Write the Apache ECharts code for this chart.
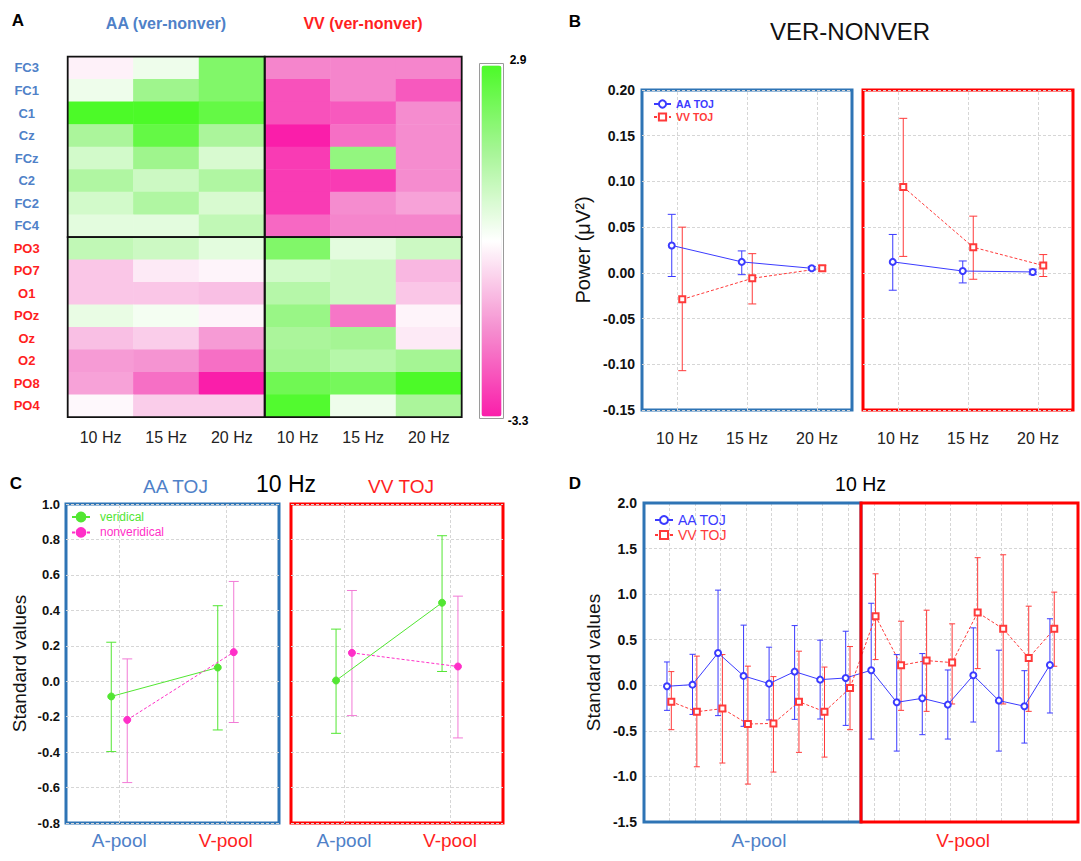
<!DOCTYPE html>
<html><head><meta charset="utf-8">
<script src="https://cdn.jsdelivr.net/npm/echarts@6/dist/echarts.min.js"></script>
<style>html,body{margin:0;padding:0;background:#fff}#c{width:1081px;height:861px}</style>
</head><body><div id="c"></div>
<script>
// ---------------- DATA ----------------
// Panel A (heatmap, ver - nonver)
const freqLabels = ['10 Hz', '15 Hz', '20 Hz'];
const frontRows = ['FC3', 'FC1', 'C1', 'Cz', 'FCz', 'C2', 'FC2', 'FC4'];
const postRows = ['PO3', 'PO7', 'O1', 'POz', 'Oz', 'O2', 'PO8', 'PO4'];
const aaFront = [[-0.4, 0.1, 2.0], [0.1, 1.5, 2.0], [2.9, 2.9, 2.5], [1.3, 2.5, 1.3], [0.6, 1.5, 0.5], [1.2, 0.7, 1.2], [0.6, 1.2, 0.5], [0.3, 0.3, 0.9]];
const aaPost = [[0.9, 0.7, 0.3], [-1.0, -0.5, -0.35], [-1.0, -1.0, -1.1], [0.2, 0.0, -0.35], [-1.1, -0.9, -1.6], [-1.6, -1.7, -2.2], [-1.5, -2.2, -3.3], [-0.3, -0.9, -0.9]];
const vvFront = [[-1.9, -1.9, -1.9], [-2.6, -1.9, -2.5], [-2.6, -2.5, -1.8], [-3.3, -2.2, -1.8], [-2.9, 1.7, -1.8], [-2.9, -2.9, -1.8], [-2.9, -1.8, -1.5], [-2.3, -1.9, -1.9]];
const vvPost = [[2.0, 0.3, 0.7], [0.6, 0.7, -1.2], [1.1, 0.7, -1.0], [1.6, -2.1, -0.35], [1.3, 1.4, -0.5], [1.4, 1.1, 1.4], [2.3, 2.2, 2.9], [2.8, 0.1, 1.3]];
const colorMin = -3.3, colorMax = 2.9;

// Panel B (power, ver - nonver)
const bApoolAAMean = [0.030, 0.012, 0.005];
const bApoolAALow = [-0.004, -0.002, 0.003];
const bApoolAAHigh = [0.064, 0.024, 0.007];
const bApoolVVMean = [-0.029, -0.006, 0.005];
const bApoolVVLow = [-0.107, -0.034, 0.002];
const bApoolVVHigh = [0.050, 0.021, 0.008];
const bVpoolAAMean = [0.012, 0.002, 0.001];
const bVpoolAALow = [-0.019, -0.011, -0.002];
const bVpoolAAHigh = [0.042, 0.013, 0.004];
const bVpoolVVMean = [0.094, 0.028, 0.008];
const bVpoolVVLow = [0.018, -0.007, -0.004];
const bVpoolVVHigh = [0.169, 0.062, 0.020];

// Panel C (10 Hz, standard values)
const poolLabels = ['A-pool', 'V-pool'];
const cAAVerMean = [-0.086, 0.077], cAAVerLow = [-0.397, -0.275], cAAVerHigh = [0.220, 0.426];
const cAANonMean = [-0.218, 0.164], cAANonLow = [-0.572, -0.233], cAANonHigh = [0.126, 0.563];
const cVVVerMean = [0.004, 0.443], cVVVerLow = [-0.294, 0.055], cVVVerHigh = [0.294, 0.821];
const cVVNonMean = [0.160, 0.083], cVVNonLow = [-0.194, -0.320], cVVNonHigh = [0.512, 0.480];

// Panel D (10 Hz, per electrode, A-pool then V-pool)
const dPoolSizes = [8, 8];
const dAAMean = [-0.011, 0.007, 0.355, 0.103, 0.018, 0.150, 0.062, 0.080, 0.165, -0.187, -0.143, -0.212, 0.110, -0.168, -0.230, 0.223];
const dAALow = [-0.275, -0.320, -0.333, -0.450, -0.380, -0.374, -0.370, -0.440, -0.590, -0.722, -0.542, -0.590, -0.403, -0.722, -0.634, -0.304];
const dAAHigh = [0.256, 0.340, 1.044, 0.660, 0.418, 0.655, 0.495, 0.593, 0.900, 0.337, 0.348, 0.168, 0.630, 0.385, 0.160, 0.730];
const dVVMean = [-0.180, -0.290, -0.256, -0.425, -0.418, -0.180, -0.290, -0.030, 0.758, 0.220, 0.271, 0.249, 0.799, 0.619, 0.300, 0.619];
const dVVLow = [-0.487, -0.894, -0.853, -1.084, -0.952, -0.736, -0.788, -0.487, 0.282, -0.275, -0.286, -0.205, 0.183, -0.205, -0.286, 0.209];
const dVVHigh = [0.150, 0.320, 0.337, 0.210, 0.095, 0.374, 0.200, 0.425, 1.223, 0.703, 0.824, 0.674, 1.400, 1.432, 0.868, 1.022];

// ---------------- STYLE ----------------
const FONT = '"Liberation Sans", Arial, Helvetica, sans-serif';
const BLUE_BOX = '#2e74b5', RED_BOX = '#ff0000';
const LBL_BLUE = '#4f81c8', LBL_RED = '#ff1f1f';
const AA_COL = '#3b3bff', VV_COL = '#ff3a3a';
const VER_COL = '#52e632', NON_COL = '#ff2fc8', NON_ERR = '#f27ad6';
const GRID_LINE = { color: '#d6d6d6', width: 1, type: [3, 2] };

// ---------------- HELPERS ----------------
function heatData(m) { const out = []; m.forEach((row, r) => row.forEach((v, c) => out.push([c, r, v]))); return out; }
function positions(n, off, start) { return Array.from({ length: n }, (_, i) => i + (start || 0) + off); }

function errSeries(name, xi, yi, xs, lows, highs, color, cap) {
  return {
    type: 'custom', name, xAxisIndex: xi, yAxisIndex: yi, silent: true, z: 3,
    data: xs.map((x, i) => [x, lows[i], highs[i]]),
    encode: { x: 0, y: [1, 2] },
    renderItem: (params, api) => {
      const x = api.value(0);
      const t = api.coord([x, api.value(2)]);
      const b = api.coord([x, api.value(1)]);
      const st = { stroke: color, lineWidth: 1, fill: 'none' };
      return { type: 'group', children: [
        { type: 'line', shape: { x1: t[0], y1: t[1], x2: b[0], y2: b[1] }, style: st },
        { type: 'line', shape: { x1: t[0] - cap, y1: t[1], x2: t[0] + cap, y2: t[1] }, style: st },
        { type: 'line', shape: { x1: b[0] - cap, y1: b[1], x2: b[0] + cap, y2: b[1] }, style: st }
      ] };
    }
  };
}
// frame drawn on top of a heatmap's coordinate system
function frameSeries(k) {
  return {
    type: 'custom', xAxisIndex: k, yAxisIndex: k, silent: true, z: 10, data: [[0, 0]],
    renderItem: (params) => {
      const cs = params.coordSys;
      return { type: 'rect', shape: { x: cs.x, y: cs.y, width: cs.width, height: cs.height },
        style: { fill: 'none', stroke: '#111', lineWidth: 1.8 } };
    }
  };
}
function meanSeries(name, xi, yi, xs, means, color, symbol, size, dashed, extra) {
  return Object.assign({
    type: 'line', name, xAxisIndex: xi, yAxisIndex: yi, silent: true, z: 4,
    data: xs.map((x, i) => [x, means[i]]),
    symbol, symbolSize: size, showSymbol: true,
    lineStyle: { color, width: 1, type: dashed ? [3, 2] : 'solid' },
    itemStyle: { color, borderColor: color, borderWidth: 1 },
    emphasis: { disabled: true }
  }, extra || {});
}
function vGridLines(n) {
  return { silent: true, symbol: ['none', 'none'], label: { show: false }, lineStyle: GRID_LINE, z: 1,
    data: Array.from({ length: n }, (_, i) => ({ xAxis: i })) };
}
function catLabelAxis(gi, data, label) {
  return { type: 'category', gridIndex: gi, data, boundaryGap: true, position: 'bottom',
    axisLine: { show: false }, axisTick: { show: false }, splitLine: { show: false },
    axisLabel: Object.assign({ interval: 0, fontFamily: FONT }, label) };
}
function hiddenX(gi, n) { return { type: 'value', gridIndex: gi, min: -0.5, max: n - 0.5, show: false }; }
function valY(gi, min, max, interval, digits, showLabels, fontSize, margin, name, nameGap, nameSize) {
  return { type: 'value', gridIndex: gi, min, max, interval,
    axisLine: { show: false }, axisTick: { show: false },
    splitLine: { show: true, lineStyle: GRID_LINE },
    axisLabel: { show: showLabels, fontSize, fontWeight: 'bold', color: '#111', margin, fontFamily: FONT,
      formatter: v => v.toFixed(digits) },
    name: name || '', nameLocation: 'middle', nameGap: nameGap || 0,
    nameTextStyle: { fontSize: nameSize || 12, color: '#111', fontFamily: FONT } };
}
const poolRichStyles = (size) => ({ p0: { color: LBL_BLUE, fontSize: size, fontFamily: FONT }, p1: { color: LBL_RED, fontSize: size, fontFamily: FONT } });
function poolRich(size) {
  return { fontSize: size, formatter: (v, i) => '{p' + i + '|' + v + '}', rich: poolRichStyles(size) };
}

// ---------------- LAYOUT ----------------
const hmBorder = { show: false, outerBoundsMode: 'none' };
const grids = [
  Object.assign({ left: 67.7, top: 56.7, width: 197, height: 180.5 }, hmBorder),
  Object.assign({ left: 264.7, top: 56.7, width: 197, height: 180.5 }, hmBorder),
  Object.assign({ left: 67.7, top: 237.2, width: 197, height: 180 }, hmBorder),
  Object.assign({ left: 264.7, top: 237.2, width: 197, height: 180 }, hmBorder),
  { left: 642, top: 90, width: 210, height: 320, show: true, borderColor: BLUE_BOX, borderWidth: 3, backgroundColor: 'rgba(0,0,0,0)', outerBoundsMode: 'none' },
  { left: 863, top: 90, width: 210, height: 320, show: true, borderColor: RED_BOX, borderWidth: 3, backgroundColor: 'rgba(0,0,0,0)', outerBoundsMode: 'none' },
  { left: 66, top: 504, width: 213, height: 319, show: true, borderColor: BLUE_BOX, borderWidth: 3, backgroundColor: 'rgba(0,0,0,0)', outerBoundsMode: 'none' },
  { left: 291, top: 504, width: 212, height: 319, show: true, borderColor: RED_BOX, borderWidth: 3, backgroundColor: 'rgba(0,0,0,0)', outerBoundsMode: 'none' },
  { left: 644, top: 503, width: 434, height: 319, show: false, outerBoundsMode: 'none' }
];

function hmX(gi, showLabels) {
  return { type: 'category', gridIndex: gi, data: freqLabels, position: 'bottom',
    axisLine: { show: false }, axisTick: { show: false }, splitLine: { show: false },
    axisLabel: { show: showLabels, interval: 0, fontSize: 16, color: '#222', margin: 12, fontFamily: FONT } };
}
function hmY(gi, rows, color, showLabels) {
  return { type: 'category', gridIndex: gi, data: rows, inverse: true,
    axisLine: { show: false }, axisTick: { show: false }, splitLine: { show: false },
    axisLabel: { show: showLabels, interval: 0, fontSize: 13, fontWeight: 'bold', color, align: 'center', margin: 41, fontFamily: FONT } };
}

const dTotal = dPoolSizes[0] + dPoolSizes[1];
const split = dPoolSizes[0] + 0.5;
const dPoolCenters = [(1 + dPoolSizes[0]) / 2, dPoolSizes[0] + (1 + dPoolSizes[1]) / 2];
const xAxes = [
  hmX(0, false), hmX(1, false), hmX(2, true), hmX(3, true),
  catLabelAxis(4, freqLabels, { fontSize: 16, color: '#222', margin: 20 }), hiddenX(4, freqLabels.length),
  catLabelAxis(5, freqLabels, { fontSize: 16, color: '#222', margin: 20 }), hiddenX(5, freqLabels.length),
  catLabelAxis(6, poolLabels, Object.assign({ margin: 8 }, poolRich(19))), hiddenX(6, poolLabels.length),
  catLabelAxis(7, poolLabels, Object.assign({ margin: 8 }, poolRich(19))), hiddenX(7, poolLabels.length),
  { type: 'value', gridIndex: 8, min: 0, max: dTotal + 1, interval: 1, position: 'bottom',
    axisLine: { show: false }, axisTick: { show: false }, axisLabel: { show: false },
    splitLine: { show: true, lineStyle: GRID_LINE } },
  { type: 'value', gridIndex: 8, min: 0, max: dTotal + 1, position: 'bottom',
    axisLine: { show: false }, axisTick: { show: false }, splitLine: { show: false },
    axisLabel: { show: true, customValues: dPoolCenters, margin: 9, fontSize: 19, fontFamily: FONT,
      showMinLabel: true, showMaxLabel: true, hideOverlap: false,
      formatter: v => v < split ? '{p0|' + poolLabels[0] + '}' : '{p1|' + poolLabels[1] + '}',
      rich: poolRichStyles(19) } }
];
const yAxes = [
  hmY(0, frontRows, LBL_BLUE, true), hmY(1, frontRows, LBL_BLUE, false),
  hmY(2, postRows, LBL_RED, true), hmY(3, postRows, LBL_RED, false),
  valY(4, -0.15, 0.2, 0.05, 2, true, 14, 7, 'Power (μV²)', 49, 20),
  valY(5, -0.15, 0.2, 0.05, 2, false, 14, 7),
  valY(6, -0.8, 1.0, 0.2, 1, true, 13, 6, 'Standard values', 37, 19),
  valY(7, -0.8, 1.0, 0.2, 1, false, 13, 6),
  valY(8, -1.5, 2.0, 0.5, 1, true, 14, 7, 'Standard values', 41, 19)
];

// ---------------- SERIES ----------------
const series = [];
[aaFront, vvFront, aaPost, vvPost].forEach((m, k) => {
  series.push({ type: 'heatmap', xAxisIndex: k, yAxisIndex: k, data: heatData(m), silent: true,
    itemStyle: { borderWidth: 0 }, emphasis: { disabled: true } });
});
[0, 1, 2, 3].forEach(k => series.push(frameSeries(k)));

// B
const bOff = 0.075, nF = freqLabels.length;
[[5, 4, bApoolAAMean, bApoolAALow, bApoolAAHigh, bApoolVVMean, bApoolVVLow, bApoolVVHigh],
 [7, 5, bVpoolAAMean, bVpoolAALow, bVpoolAAHigh, bVpoolVVMean, bVpoolVVLow, bVpoolVVHigh]].forEach(p => {
  const [xi, yi, am, al, ah, vm, vl, vh] = p;
  const xa = positions(nF, -bOff), xv = positions(nF, bOff);
  series.push(errSeries('AA err', xi, yi, xa, al, ah, AA_COL, 4));
  series.push(errSeries('VV err', xi, yi, xv, vl, vh, VV_COL, 4));
  series.push(meanSeries('AA TOJ', xi, yi, xa, am, AA_COL, 'emptyCircle', 6, false, { markLine: vGridLines(nF) }));
  series.push(meanSeries('VV TOJ', xi, yi, xv, vm, VV_COL, 'emptyRect', 6, true));
});

// C
const cOff = 0.075, nP = poolLabels.length;
[[9, 6, cAAVerMean, cAAVerLow, cAAVerHigh, cAANonMean, cAANonLow, cAANonHigh],
 [11, 7, cVVVerMean, cVVVerLow, cVVVerHigh, cVVNonMean, cVVNonLow, cVVNonHigh]].forEach(p => {
  const [xi, yi, gm, gl, gh, mm, ml, mh] = p;
  const xg = positions(nP, -cOff), xm = positions(nP, cOff);
  series.push(errSeries('ver err', xi, yi, xg, gl, gh, VER_COL, 5));
  series.push(errSeries('non err', xi, yi, xm, ml, mh, NON_ERR, 5));
  series.push(meanSeries('veridical', xi, yi, xg, gm, VER_COL, 'circle', 7, false, { markLine: vGridLines(nP) }));
  series.push(meanSeries('nonveridical', xi, yi, xm, mm, NON_COL, 'circle', 7, true));
});

// D
const xdA = positions(dTotal, -0.1, 1), xdV = positions(dTotal, 0.07, 1);
series.push(errSeries('AA err', 12, 8, xdA, dAALow, dAAHigh, AA_COL, 3));
series.push(errSeries('VV err', 12, 8, xdV, dVVLow, dVVHigh, VV_COL, 3));
series.push(meanSeries('AA TOJ', 12, 8, xdA, dAAMean, AA_COL, 'emptyCircle', 6, false, {
  markArea: { silent: true, z: 5, data: [
    [{ xAxis: 0, itemStyle: { color: 'rgba(0,0,0,0)', borderColor: BLUE_BOX, borderWidth: 3 } }, { xAxis: split }],
    [{ xAxis: split, itemStyle: { color: 'rgba(0,0,0,0)', borderColor: RED_BOX, borderWidth: 3 } }, { xAxis: dTotal + 1 }]
  ] }
}));
series.push(meanSeries('VV TOJ', 12, 8, xdV, dVVMean, VV_COL, 'emptyRect', 6, true));

// ---------------- TEXT ----------------
function txt(text, x, y, size, weight, color) {
  return { type: 'text', x, y, silent: true, z: 100,
    style: { text, fill: color, fontSize: size, fontWeight: weight, fontFamily: FONT, textAlign: 'center', textVerticalAlign: 'middle' } };
}
const graphic = [
  txt('A', 18, 20, 17, 'bold', '#000'),
  txt('AA (ver-nonver)', 166, 23, 16, 'bold', LBL_BLUE),
  txt('VV (ver-nonver)', 363, 23, 16, 'bold', LBL_RED),
  txt('2.9', 518, 60, 12, 'bold', '#000'),
  txt('-3.3', 518, 421, 12, 'bold', '#000'),
  txt('B', 575, 21, 17, 'bold', '#000'),
  txt('VER-NONVER', 850, 31, 24, 'normal', '#111'),
  txt('C', 16, 483, 17, 'bold', '#000'),
  txt('AA TOJ', 175.5, 486, 19, 'normal', LBL_BLUE),
  txt('10 Hz', 286, 484, 23, 'normal', '#000'),
  txt('VV TOJ', 401, 486, 19, 'normal', LBL_RED),
  txt('D', 575, 483, 17, 'bold', '#000'),
  txt('10 Hz', 860.5, 484, 19.5, 'normal', '#000')
];

const option = {
  animation: false,
  backgroundColor: '#fff',
  textStyle: { fontFamily: FONT },
  grid: grids,
  xAxis: xAxes,
  yAxis: yAxes,
  visualMap: {
    type: 'continuous', min: colorMin, max: colorMax, seriesIndex: [0, 1, 2, 3],
    orient: 'vertical', left: 479, top: 63, itemWidth: 20, itemHeight: 351,
    calculable: false, hoverLink: false, padding: 2, borderColor: '#9a9a9a', borderWidth: 1,
    inRange: { color: ['#fa1eaa', '#f590d0', '#ffffff', '#a8f598', '#4cfa28'] }
  },
  legend: [
    { orient: 'vertical', left: 653, top: 98.5, itemWidth: 17, itemHeight: 9, itemGap: 2, padding: 0, selectedMode: false,
      textStyle: { fontSize: 10.5, fontWeight: 'bold', fontFamily: FONT },
      data: [{ name: 'AA TOJ', textStyle: { color: AA_COL } }, { name: 'VV TOJ', textStyle: { color: VV_COL } }] },
    { orient: 'vertical', left: 71, top: 511, itemWidth: 18, itemHeight: 11, itemGap: 3.4, padding: 0, selectedMode: false,
      textStyle: { fontSize: 12, fontFamily: FONT, padding: [0, 0, 0, 5] },
      data: [{ name: 'veridical', textStyle: { color: VER_COL } }, { name: 'nonveridical', textStyle: { color: NON_COL } }] },
    { orient: 'vertical', left: 654, top: 513, itemWidth: 18, itemHeight: 10, itemGap: 1, padding: 0, selectedMode: false,
      textStyle: { fontSize: 14, fontFamily: FONT },
      data: [{ name: 'AA TOJ', textStyle: { color: AA_COL } }, { name: 'VV TOJ', textStyle: { color: VV_COL } }] }
  ],
  graphic,
  series
};

const chart = echarts.init(document.getElementById('c'), null, { renderer: 'svg', width: 1081, height: 861 });
chart.setOption(option);
</script>
</body></html>
